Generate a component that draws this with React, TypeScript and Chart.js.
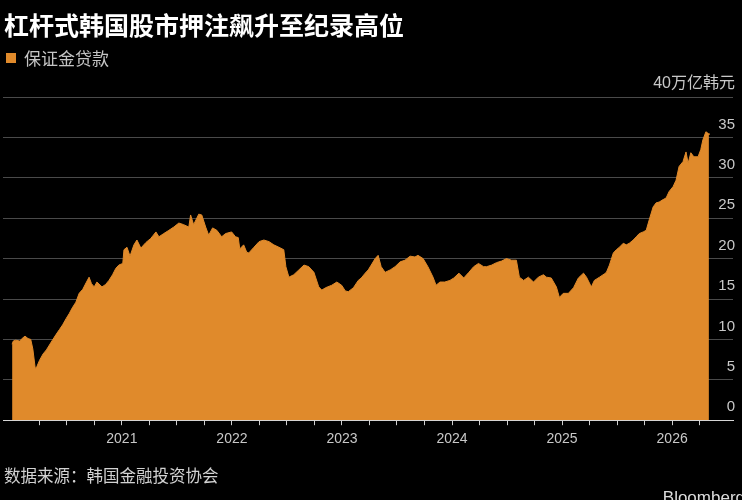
import React, { useEffect, useRef } from 'react';
import { Chart, registerables } from 'chart.js';

Chart.register(...registerables);

const TITLE = '杠杆式韩国股市押注飙升至纪录高位';
const SERIES_NAME = '保证金贷款';
const SOURCE = '数据来源：韩国金融投资协会';
const UNIT_LABEL = '40万亿韩元';
const LOGO = 'Bloomberg';

const ORANGE = '#E08A2B';

const dates = [
  '2020-01-02', '2020-01-06', '2020-01-14', '2020-01-27', '2020-02-07', '2020-02-14', '2020-02-24', '2020-03-04',
  '2020-03-11', '2020-03-19', '2020-03-24', '2020-04-02', '2020-04-14', '2020-04-25', '2020-05-15', '2020-05-27',
  '2020-06-07', '2020-06-18', '2020-06-30', '2020-07-10', '2020-07-20', '2020-08-01', '2020-08-12', '2020-08-24',
  '2020-09-04', '2020-09-14', '2020-09-22', '2020-10-01', '2020-10-10', '2020-10-27', '2020-11-08', '2020-11-19',
  '2020-12-01', '2020-12-12', '2020-12-22', '2021-01-04', '2021-01-08', '2021-01-18', '2021-01-28', '2021-02-10',
  '2021-02-20', '2021-03-05', '2021-03-22', '2021-04-07', '2021-04-24', '2021-05-04', '2021-05-20', '2021-06-06',
  '2021-06-22', '2021-07-09', '2021-07-25', '2021-08-11', '2021-08-17', '2021-08-27', '2021-09-13', '2021-09-23',
  '2021-10-06', '2021-10-16', '2021-10-29', '2021-11-12', '2021-11-28', '2021-12-11', '2021-12-31', '2022-01-13',
  '2022-01-22', '2022-01-27', '2022-02-09', '2022-02-19', '2022-02-26', '2022-03-15', '2022-04-01', '2022-04-17',
  '2022-05-04', '2022-05-20', '2022-06-06', '2022-06-22', '2022-06-29', '2022-07-09', '2022-07-25', '2022-08-11',
  '2022-08-28', '2022-09-13', '2022-09-30', '2022-10-16', '2022-10-26', '2022-11-08', '2022-11-28', '2022-12-15',
  '2022-12-31', '2023-01-12', '2023-01-22', '2023-02-08', '2023-02-24', '2023-03-06', '2023-03-19', '2023-03-29',
  '2023-04-08', '2023-04-21', '2023-05-01', '2023-05-11', '2023-05-24', '2023-06-10', '2023-06-26', '2023-07-13',
  '2023-07-29', '2023-08-15', '2023-08-31', '2023-09-10', '2023-09-27', '2023-10-13', '2023-10-30', '2023-11-09',
  '2023-11-22', '2023-12-08', '2023-12-25', '2024-01-07', '2024-01-24', '2024-02-09', '2024-02-26', '2024-03-13',
  '2024-03-29', '2024-04-15', '2024-04-25', '2024-05-12', '2024-05-28', '2024-06-14', '2024-06-30', '2024-07-17',
  '2024-08-02', '2024-08-12', '2024-08-26', '2024-09-11', '2024-09-28', '2024-10-14', '2024-10-31', '2024-11-10',
  '2024-11-26', '2024-12-13', '2024-12-23', '2025-01-05', '2025-01-22', '2025-02-08', '2025-02-24', '2025-03-13',
  '2025-03-23', '2025-04-08', '2025-04-18', '2025-05-05', '2025-05-21', '2025-05-28', '2025-06-07', '2025-06-20',
  '2025-06-30', '2025-07-10', '2025-07-23', '2025-08-02', '2025-08-12', '2025-08-25', '2025-09-04', '2025-09-14',
  '2025-09-27', '2025-10-07', '2025-10-17', '2025-10-30', '2025-11-09', '2025-11-19', '2025-12-02', '2025-12-12',
  '2025-12-22', '2026-01-04', '2026-01-14', '2026-01-24', '2026-02-06', '2026-02-16', '2026-02-23', '2026-03-04',
  '2026-03-14', '2026-03-28', '2026-04-06', '2026-04-13', '2026-04-23', '2026-04-30', '2026-05-03',
];

const values = [
  9.4, 9.8, 9.9, 9.8, 10.2, 10.4, 10.1, 10.0,
  8.8, 6.4, 6.6, 7.4, 8.2, 8.7, 9.9, 10.6,
  11.2, 11.8, 12.6, 13.2, 13.9, 14.6, 15.7, 16.2,
  17.0, 17.7, 16.9, 16.5, 17.1, 16.5, 16.8, 17.3,
  18.0, 18.8, 19.2, 19.4, 21.1, 21.4, 20.3, 21.7,
  22.3, 21.3, 22.0, 22.5, 23.3, 22.7, 23.1, 23.5,
  23.9, 24.4, 24.2, 23.9, 25.4, 24.2, 25.5, 25.4,
  23.9, 22.9, 23.8, 23.5, 22.7, 23.1, 23.3, 22.7,
  22.6, 21.2, 21.7, 20.8, 20.7, 21.4, 22.1, 22.3,
  22.1, 21.7, 21.4, 21.1, 19.0, 17.7, 18.0, 18.6,
  19.2, 19.0, 18.3, 16.5, 16.1, 16.4, 16.7, 17.1,
  16.7, 16.0, 15.9, 16.4, 17.3, 17.6, 18.2, 18.6,
  19.2, 20.0, 20.4, 19.0, 18.3, 18.6, 19.0, 19.6,
  19.8, 20.3, 20.2, 20.4, 20.0, 19.0, 17.7, 16.7,
  17.1, 17.1, 17.3, 17.6, 18.2, 17.6, 18.3, 19.0,
  19.4, 19.0, 19.0, 19.2, 19.5, 19.7, 20.0, 19.8,
  19.8, 17.7, 17.3, 17.7, 17.1, 17.7, 18.0, 17.7,
  17.6, 16.5, 15.2, 15.7, 15.7, 16.4, 17.6, 18.2,
  17.7, 16.5, 17.3, 17.7, 18.1, 18.3, 19.2, 20.7,
  21.1, 21.4, 21.9, 21.7, 21.9, 22.3, 22.7, 23.1,
  23.3, 23.5, 24.8, 26.4, 26.9, 27.0, 27.3, 27.5,
  28.3, 28.9, 29.7, 31.4, 32.0, 33.2, 31.8, 33.1,
  32.6, 32.6, 33.5, 34.7, 35.7, 35.5, 35.3,
];

const yearTicks = [2021, 2022, 2023, 2024, 2025, 2026];
const quarterTicks = [
  2020.25, 2020.5, 2020.75, 2021, 2021.25, 2021.5, 2021.75, 2022, 2022.25, 2022.5, 2022.75,
  2023, 2023.25, 2023.5, 2023.75, 2024, 2024.25, 2024.5, 2024.75, 2025, 2025.25, 2025.5, 2025.75,
  2026, 2026.25,
];
const yMin = 0;
const yMax = 40;
const yStep = 5;
const xMin = 2019.92;
const xMax = 2026.553;

function toYear(s: string): number {
  const [y, m, d] = s.split('-').map(Number);
  const t = Date.UTC(y, m - 1, d);
  const a = Date.UTC(y, 0, 1);
  const b = Date.UTC(y + 1, 0, 1);
  return y + (t - a) / (b - a);
}

const NUM_FONT = '"Liberation Sans", "Noto Sans CJK SC", sans-serif';
const CJK_FONT = '"Noto Sans CJK SC", sans-serif';

const decorPlugin = {
  id: 'decor',
  beforeDraw(chart: any) {
    const ctx = chart.ctx;
    ctx.save();
    ctx.fillStyle = '#000000';
    ctx.fillRect(0, 0, chart.width, chart.height);
    ctx.restore();
  },
  afterDraw(chart: any) {
    const ctx = chart.ctx;
    ctx.save();
    ctx.textBaseline = 'middle';
    ctx.textAlign = 'left';
    ctx.fillStyle = '#ffffff';
    ctx.font = `bold 25px ${CJK_FONT}`;
    ctx.fillText(TITLE, 4, 25);

    ctx.fillStyle = ORANGE;
    ctx.fillRect(6, 53, 10, 10);
    ctx.fillStyle = '#c4c4c4';
    ctx.font = `17px ${CJK_FONT}`;
    ctx.fillText(SERIES_NAME, 24, 59);

    ctx.fillStyle = '#d2d2d2';
    ctx.font = `16.5px ${CJK_FONT}`;
    ctx.fillText(SOURCE, 4, 476);

    ctx.textBaseline = 'alphabetic';
    ctx.textAlign = 'right';
    ctx.fillStyle = '#dddddd';
    ctx.font = `17px ${NUM_FONT}`;
    ctx.fillText(LOGO, 745, 503);
    ctx.restore();
  },
};

export default function App() {
  const ref = useRef<HTMLCanvasElement>(null);

  useEffect(() => {
    document.body.style.margin = '0';
    document.body.style.background = '#000';
    const canvas = ref.current;
    if (!canvas) return;
    const points = dates.map((d, i) => ({ x: toYear(d), y: values[i] }));

    const chart = new Chart(canvas, {
      type: 'line',
      data: {
        datasets: [
          {
            label: SERIES_NAME,
            data: points,
            fill: 'origin',
            backgroundColor: ORANGE,
            borderColor: ORANGE,
            borderWidth: 1,
            pointRadius: 0,
            tension: 0,
          },
        ],
      },
      options: {
        responsive: false,
        animation: false,
        devicePixelRatio: 1,
        parsing: false,
        layout: { padding: { top: 97, left: 3, right: 5, bottom: 46 } },
        plugins: {
          legend: { display: false },
          tooltip: { enabled: false },
          title: { display: false },
        },
        scales: {
          x: {
            type: 'linear',
            min: xMin,
            max: xMax,
            afterBuildTicks: (scale: any) => {
              scale.ticks = quarterTicks.map((v) => ({ value: v }));
            },
            grid: {
              display: true,
              drawOnChartArea: false,
              drawTicks: true,
              tickLength: 5,
              color: '#cfcfcf',
            },
            border: { display: true, color: '#d6d6d6', width: 1 },
            ticks: {
              autoSkip: false,
              maxRotation: 0,
              padding: 6,
              color: '#c8c8c8',
              font: { family: NUM_FONT, size: 14 },
              callback: (v: any) => (yearTicks.includes(Number(v)) ? String(v) : ''),
            },
          },
          y: {
            position: 'right',
            min: yMin,
            max: yMax,
            grid: { display: true, drawTicks: false, color: '#4a4a4a', lineWidth: 1 },
            border: { display: false },
            ticks: {
              stepSize: yStep,
              mirror: true,
              padding: 2,
              labelOffset: -13,
              color: '#c8c8c8',
              font: (c: any) => ({ family: NUM_FONT, size: c.tick && c.tick.value === yMax ? 16 : 15 }),
              callback: (v: any) => (Number(v) === yMax ? UNIT_LABEL : String(v)),
            },
          },
        },
      },
      plugins: [decorPlugin],
    });

    return () => chart.destroy();
  }, []);

  return (
    <canvas ref={ref} width={742} height={500} style={{ display: 'block', width: 742, height: 500 }} />
  );
}
